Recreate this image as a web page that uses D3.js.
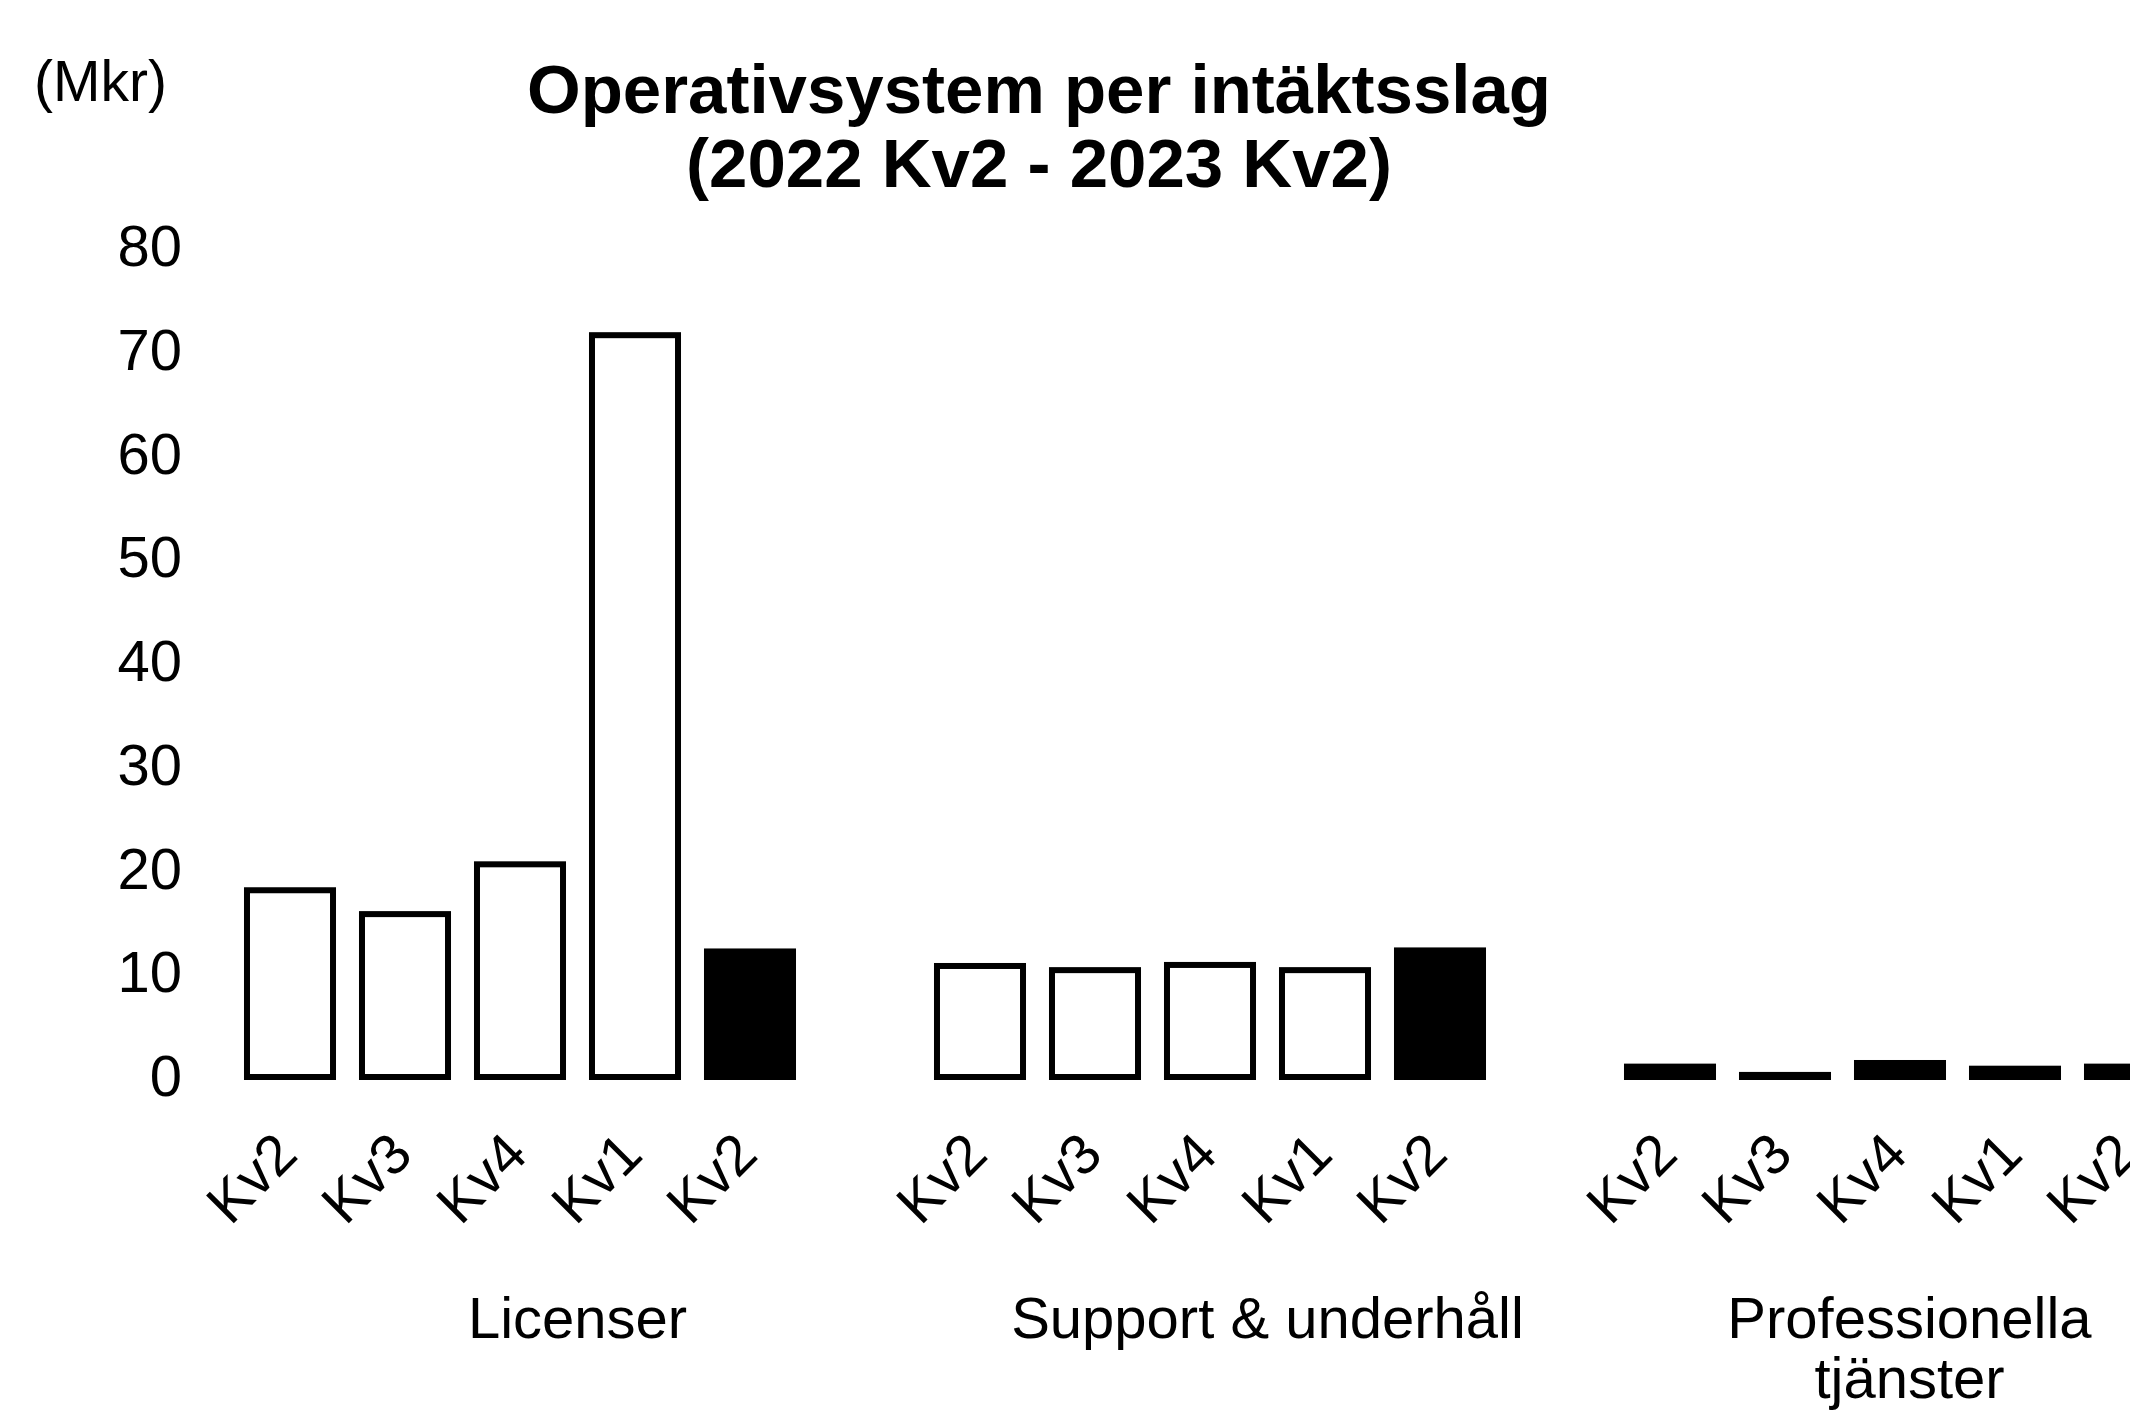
<!DOCTYPE html>
<html>
<head>
<meta charset="utf-8">
<script src="https://cdn.jsdelivr.net/npm/d3@7"></script>
<style>
  html, body { margin: 0; padding: 0; background: #fff; }
  svg { display: block; }
  text { font-family: "Liberation Sans", Arial, sans-serif; fill: #000; }
</style>
</head>
<body>
<svg id="chart" width="2130" height="1412"></svg>
<script>
// ---- data ----
const groups = ["Licenser", "Support & underhåll", "Professionella tjänster"];
const groupLabelLines = [["Licenser"], ["Support & underhåll"], ["Professionella", "tjänster"]];
const quarters = ["2022 Kv2", "2022 Kv3", "2022 Kv4", "2023 Kv1", "2023 Kv2"];
const quarterLabels = ["Kv2", "Kv3", "Kv4", "Kv1", "Kv2"];
const licenser = [18.0, 15.7, 20.5, 71.5, 12.1];
const support = [10.7, 10.3, 10.8, 10.3, 12.2];
const professionella = [1.0, 0.2, 1.35, 0.8, 1.0];
const yTicks = [0, 10, 20, 30, 40, 50, 60, 70, 80];
const titleLines = ["Operativsystem per intäktsslag", "(2022 Kv2 - 2023 Kv2)"];
const unitLabel = "(Mkr)";

const seriesByGroup = [licenser, support, professionella];

// ---- layout ----
const W = 2130, H = 1412;
const svg = d3.select("#chart");

const y = d3.scaleLinear().domain([0, 80]).range([1077, 247]);

const gx0 = 232.5, groupStep = 690;
const x0 = d3.scaleBand().domain(groups).range([gx0, gx0 + groups.length * groupStep]).paddingInner(0).paddingOuter(0);
const x1 = d3.scaleBand().domain(quarters).range([0, 575]).paddingInner(0.252).paddingOuter(0.126);

const strokeW = 6;

// title
svg.append("g").selectAll("text").data(titleLines).join("text")
  .attr("x", 1039)
  .attr("y", (d, i) => 113 + i * 74)
  .attr("text-anchor", "middle")
  .attr("font-weight", "bold")
  .attr("font-size", 69)
  .text(d => d);

// unit label
svg.append("text")
  .attr("x", 34).attr("y", 101)
  .attr("font-size", 57)
  .text(unitLabel);

// y axis (labels only)
const yAxis = svg.append("g")
  .attr("transform", "translate(190,0)")
  .call(d3.axisLeft(y).tickValues(yTicks).tickSize(0).tickPadding(8).tickFormat(d3.format("d")));
yAxis.select(".domain").remove();
yAxis.selectAll("text")
  .attr("font-size", 58)
  .attr("font-family", "'Liberation Sans', Arial, sans-serif")
  .attr("fill", "#000");

// groups
groups.forEach((g, gi) => {
  const vals = seriesByGroup[gi];
  const gg = svg.append("g").attr("transform", `translate(${x0(g)},0)`);

  gg.selectAll("rect").data(quarters).join("rect")
    .attr("x", q => x1(q))
    .attr("width", x1.bandwidth())
    .attr("y", (q, i) => y(vals[i]))
    .attr("height", (q, i) => y(0) - y(vals[i]))
    .attr("fill", (q, i) => (i === quarters.length - 1 || (y(0) - y(vals[i])) < 2.5 * strokeW) ? "#000" : "#fff")
    .attr("stroke", "#000")
    .attr("stroke-width", strokeW);

  const xa = gg.append("g")
    .attr("transform", `translate(0,${y(0)})`)
    .call(d3.axisBottom(x1).tickSize(0).tickFormat((q, i) => quarterLabels[i]));
  xa.select(".domain").remove();
  xa.selectAll("text")
    .attr("font-size", 57)
    .attr("font-family", "'Liberation Sans', Arial, sans-serif")
    .attr("fill", "#000")
    .attr("text-anchor", "end")
    .attr("dy", null)
    .attr("y", null)
    .attr("transform", "translate(10,80) rotate(-45)");

  // group label
  const lbl = svg.append("text")
    .attr("font-size", 58)
    .attr("text-anchor", "middle");
  groupLabelLines[gi].forEach((line, li) => {
    lbl.append("tspan").attr("x", 0).attr("y", 1338 + li * 60).text(line);
  });
  let cx = x0(g) + x0.bandwidth() / 2;
  const bw = lbl.node().getBBox().width;
  const maxRight = W - 38;
  if (cx + bw / 2 > maxRight) cx = maxRight - bw / 2;
  lbl.attr("transform", `translate(${cx},0)`);
});
</script>
</body>
</html>
